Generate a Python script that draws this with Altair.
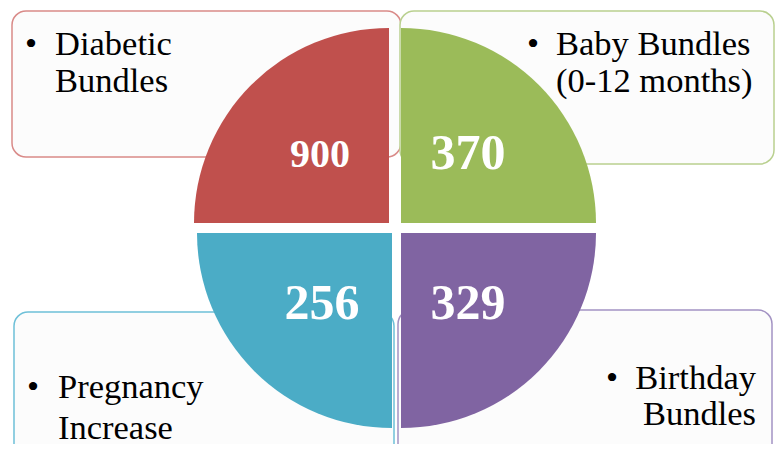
import math
import altair as alt
import pandas as pd

# ---- data ----
categories = ["Diabetic Bundles", "Baby Bundles (0-12 months)", "Pregnancy Increase", "Birthday Bundles"]
labels = ["Diabetic\nBundles", "Baby Bundles\n(0-12 months)", "Pregnancy\nIncrease", "Birthday\nBundles"]
values = [900, 370, 256, 329]
quadrants = ["top-left", "top-right", "bottom-left", "bottom-right"]

# ---- styles ----
fills = ["#C0504D", "#9BBB59", "#4BACC6", "#8064A2"]
strokes = ["#D98A88", "#B9D08F", "#6EC0D8", "#A393C3"]
FONT = "Liberation Serif"

# ---- layout (page pixel coordinates) ----
BOX = {"top-left": (12, 11, 401, 157), "top-right": (400, 11, 774, 164),
       "bottom-left": (14, 312, 394, 470), "bottom-right": (398, 310, 772, 470)}
CENTER = {"top-left": (389, 223), "top-right": (401, 223),
          "bottom-left": (392, 233), "bottom-right": (401, 233)}
PI = math.pi
ANGLES = {"top-left": (1.5 * PI, 2 * PI), "top-right": (0, 0.5 * PI),
          "bottom-right": (0.5 * PI, PI), "bottom-left": (PI, 1.5 * PI)}
NUM = {"top-left": (320, 167, 40), "top-right": (468, 169, 50),
       "bottom-left": (322, 319, 50), "bottom-right": (468, 319, 50)}
LABEL = {"top-left": dict(bx=31, tx=55, y0=55, dy=37, align="left"),
         "top-right": dict(bx=533, tx=556, y0=55, dy=37, align="left"),
         "bottom-left": dict(bx=33, tx=58, y0=398, dy=41, align="left"),
         "bottom-right": dict(bx=612, tx=756, y0=389, dy=36, align="right")}
RADIUS = 195

boxes, arcs, nums, lines, bullets = [], [], [], [], []
for i, q in enumerate(quadrants):
    x0, y0, x1, y1 = BOX[q]
    boxes.append(dict(category=categories[i], x=x0, y=y0, x2=x1, y2=y1, stroke=strokes[i]))
    cx, cy = CENTER[q]
    t0, t1 = ANGLES[q]
    arcs.append(dict(category=categories[i], x=cx, y=cy, t0=t0, t1=t1))
    nx, ny, fs = NUM[q]
    nums.append(dict(x=nx, y=ny, fs=fs, text=str(values[i])))
    L = LABEL[q]
    bullets.append(dict(x=L["bx"], y=L["y0"], text="\u2022"))
    for k, line in enumerate(labels[i].split("\n")):
        lines.append(dict(x=L["tx"], y=L["y0"] + k * L["dy"], text=line, align=L["align"]))

df_box = pd.DataFrame(boxes)
df_arc = pd.DataFrame(arcs)
df_num = pd.DataFrame(nums)
df_lines = pd.DataFrame(lines)
df_bul = pd.DataFrame(bullets)

W, H = 767, 436
xs = alt.Scale(domain=[8, 8 + W], nice=False, zero=False)
ys = alt.Scale(domain=[8, 8 + H], nice=False, zero=False, reverse=True)
X = lambda f="x": alt.X(f"{f}:Q", scale=xs, axis=None)
Y = lambda f="y": alt.Y(f"{f}:Q", scale=ys, axis=None)

box_layer = alt.Chart(df_box).mark_rect(cornerRadius=14, strokeWidth=1.5, fill="#FCFCFC").encode(
    x=X(), x2="x2:Q", y=Y(), y2="y2:Q",
    stroke=alt.Stroke("stroke:N", scale=None),
)

arc_layer = alt.Chart(df_arc).mark_arc(radius=RADIUS).encode(
    x=X(), y=Y(),
    theta=alt.Theta("t0:Q", scale=None), theta2="t1:Q",
    color=alt.Color("category:N", scale=alt.Scale(domain=categories, range=fills), legend=None),
)

num_layer = alt.Chart(df_num).mark_text(font=FONT, fontWeight="bold", color="white",
                                        align="center", baseline="alphabetic").encode(
    x=X(), y=Y(), text="text:N", size=alt.Size("fs:Q", scale=None),
)

left_lines = alt.Chart(df_lines[df_lines["align"] == "left"]).mark_text(
    font=FONT, fontSize=34.5, color="black", align="left", baseline="alphabetic").encode(
    x=X(), y=Y(), text="text:N")
right_lines = alt.Chart(df_lines[df_lines["align"] == "right"]).mark_text(
    font=FONT, fontSize=34.5, color="black", align="right", baseline="alphabetic").encode(
    x=X(), y=Y(), text="text:N")
bullet_layer = alt.Chart(df_bul).mark_text(
    font=FONT, fontSize=34.5, color="black", align="center", baseline="alphabetic").encode(
    x=X(), y=Y(), text="text:N")

chart = alt.layer(box_layer, arc_layer, num_layer, left_lines, right_lines, bullet_layer).properties(
    width=W, height=H, padding=0, autosize=alt.AutoSizeParams(type="none"),
    background="white",
).configure_view(stroke=None)

chart.save("out.html", embed_options={"renderer": "svg", "actions": False})
